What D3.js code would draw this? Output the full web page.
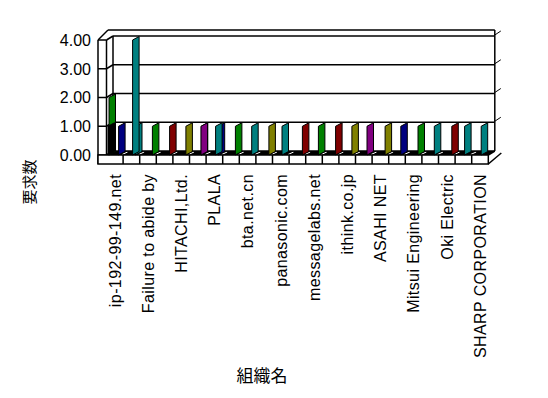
<!DOCTYPE html>
<html><head><meta charset="utf-8">
<script src="https://cdn.jsdelivr.net/npm/d3@7"></script>
<style>html,body{margin:0;padding:0;background:#fff;} svg{display:block;}</style>
</head><body><svg id="c" width="548" height="398"></svg>
<script>
// ---- data ----
const categories = ["ip-192-99-149.net", "", "Failure to abide by", "", "HITACHI,Ltd.", "", "PLALA", "",
  "bta.net.cn", "", "panasonic.com", "", "messagelabs.net", "", "ithink.co.jp", "", "ASAHI NET", "",
  "Mitsui Engineering", "", "Oki Electric", "", "SHARP CORPORATION"];
const yTicks = [0, 1, 2, 3, 4];
const yTickLabels = ["0.00", "1.00", "2.00", "3.00", "4.00"];
const yTitle = "要求数";
const xTitle = "組織名";
// series, listed from front (first) to back (last)
const seriesNames = ["black", "greenA", "tealA", "purple", "gray", "navy", "tealB", "greenB", "olive", "maroon"];
const seriesColors = ["#000000", "#008000", "#008080", "#800080", "#808080", "#000080", "#008080", "#008000", "#808000", "#800000"];
const vBlack  = [1,0,0,0,0,0,0,0,0,0,0,0,0,0,0,0,0,0,0,0,0,0,0];
const vGreenA = [2,0,0,0,0,0,0,0,0,0,0,0,0,0,0,0,0,0,0,0,0,0,0];
const vTealA  = [0,4,0,0,0,0,1,0,0,0,1,0,0,0,0,0,0,0,0,0,0,1,1];
const vPurple = [0,0,0,0,0,1,0,0,0,0,0,0,0,0,0,1,0,0,0,0,0,0,0];
const vGray   = [0,0,0,0,0,1,0,0,0,0,0,0,0,0,0,0,0,0,0,0,0,0,0];
const vNavy   = [1,0,0,0,0,0,1,0,0,0,0,0,0,0,0,0,0,1,0,0,0,0,0];
const vTealB  = [0,1,0,0,0,0,0,0,1,0,0,0,0,0,0,0,0,0,0,1,0,0,0];
const vGreenB = [0,0,1,0,0,0,0,1,0,0,0,0,1,0,0,0,0,0,1,0,0,0,0];
const vOlive  = [0,0,0,0,1,0,0,0,0,1,0,0,0,0,1,0,1,0,0,0,0,0,0];
const vMaroon = [0,0,0,1,0,0,0,0,0,0,0,1,0,1,0,0,0,0,0,0,1,0,0];
const seriesValues = [vBlack, vGreenA, vTealA, vPurple, vGray, vNavy, vTealB, vGreenB, vOlive, vMaroon];

// ---- layout ----
const svg = d3.select("#c");
const x = d3.scaleBand().domain(d3.range(categories.length)).range([106.5, 488.3]).padding(0);
const y = d3.scaleLinear().domain([0, 4]).range([155, 40]);
const DX = 6.5, DY = -4;          // depth offset
const outerL = 98, floorB = 164;
const seriesOffset = d3.scaleLinear().domain([0, 1, 2, 3, 9]).range([1.5, 2.5, 9.5, 11.5, 13.3]);
const BW = 6.5, SL = 3.5;
const line = (x1, y1, x2, y2, c = "#000", w = 1.5) =>
  svg.append("line").attr("x1", x1).attr("y1", y1).attr("x2", x2).attr("y2", y2)
     .attr("stroke", c).attr("stroke-width", w);

const xL = x.range()[0], xR = x.range()[1];
const backL = xL + DX, backR = xR + DX;

// floor (black top face)
svg.append("polygon")
  .attr("points", [[xL, y(0)], [xR, y(0)], [backR, y(0) + DY], [backL, y(0) + DY]].map(p => p.join(",")).join(" "))
  .attr("fill", "#000");
// white floor depth lines
for (let i = 1; i < categories.length; i++) {
  const xb = x(i);
  line(xb - 1, y(0) - 0.5, xb + DX - 2, y(0) + DY + 1, "#fff", 1);
}
// back wall grid lines
yTicks.forEach(v => line(backL, y(v) + DY, backR, y(v) + DY));
line(backL, y(4) + DY, backL, y(0) + DY);
// top frame
line(outerL, y(4), outerL + 10, y(4) - 10);
line(outerL + 10, y(4) - 10, backR, y(4) - 10);
line(backR, y(4) - 10, backR, y(0) + DY);
// right ticks
yTicks.filter(v => v > 0).forEach(v => line(backR, y(v) + DY - 1, backR + 6, y(v) + DY - 5, "#000", 1));
// left wall
line(outerL, y(4), outerL, floorB);
line(xL, y(4), xL, y(0));
yTicks.forEach(v => {
  line(outerL, y(v), xL, y(v));
  line(xL, y(v), backL, y(v) + DY);
});
// front floor box
svg.append("rect").attr("x", outerL).attr("y", y(0)).attr("width", xR - outerL).attr("height", floorB - y(0))
  .attr("fill", "#fff").attr("stroke", "#000").attr("stroke-width", 1.5);
for (let i = 1; i < categories.length; i++) line(x(i), y(0), x(i), floorB);
line(xR, y(0), backR, y(0) + DY);
line(xR, floorB, xR + 13, floorB - 11);

// bars (deepest first)
const bars = [];
seriesValues.forEach((vals, s) => vals.forEach((v, c) => { if (v > 0) bars.push({ s, c, v }); }));
bars.sort((a, b) => b.s - a.s);
svg.append("g").selectAll("path").data(bars).join("path")
  .attr("d", d => {
    const x0 = x(d.c) + seriesOffset(d.s);
    const yb = y(0), yt = y(d.v);
    return `M${x0},${yb}L${x0 + BW},${yb - SL}L${x0 + BW},${yt - SL}L${x0},${yt}Z`;
  })
  .attr("fill", d => seriesColors[d.s]).attr("stroke", "#000").attr("stroke-width", 1);

// y tick labels
svg.append("g").selectAll("text").data(yTicks).join("text")
  .attr("x", 91).attr("y", d => y(d)).attr("dy", "0.36em").attr("text-anchor", "end")
  .attr("font-family", "Liberation Sans, Arial, sans-serif").attr("font-size", 16)
  .text((d, i) => yTickLabels[i]);

// x labels
svg.append("g").selectAll("text").data(categories.map((n, i) => ({ n, i })).filter(d => d.n !== "")).join("text")
  .attr("transform", d => `translate(${x(d.i) + x.bandwidth() / 2},174) rotate(-90)`)
  .attr("dy", "0.36em").attr("text-anchor", "end").attr("letter-spacing", 0.4)
  .attr("font-family", "Liberation Sans, Arial, sans-serif").attr("font-size", 16)
  .text(d => d.n);

// titles
svg.append("text").attr("transform", "translate(30,182) rotate(-90)").attr("text-anchor", "middle")
  .attr("dy", "0.36em").attr("font-family", "Noto Sans CJK JP").attr("font-size", 15).text(yTitle);
svg.append("text").attr("x", 262).attr("y", 376).attr("text-anchor", "middle").attr("dy", "0.36em")
  .attr("font-family", "Noto Sans CJK JP").attr("font-size", 17).text(xTitle);
</script></body></html>
